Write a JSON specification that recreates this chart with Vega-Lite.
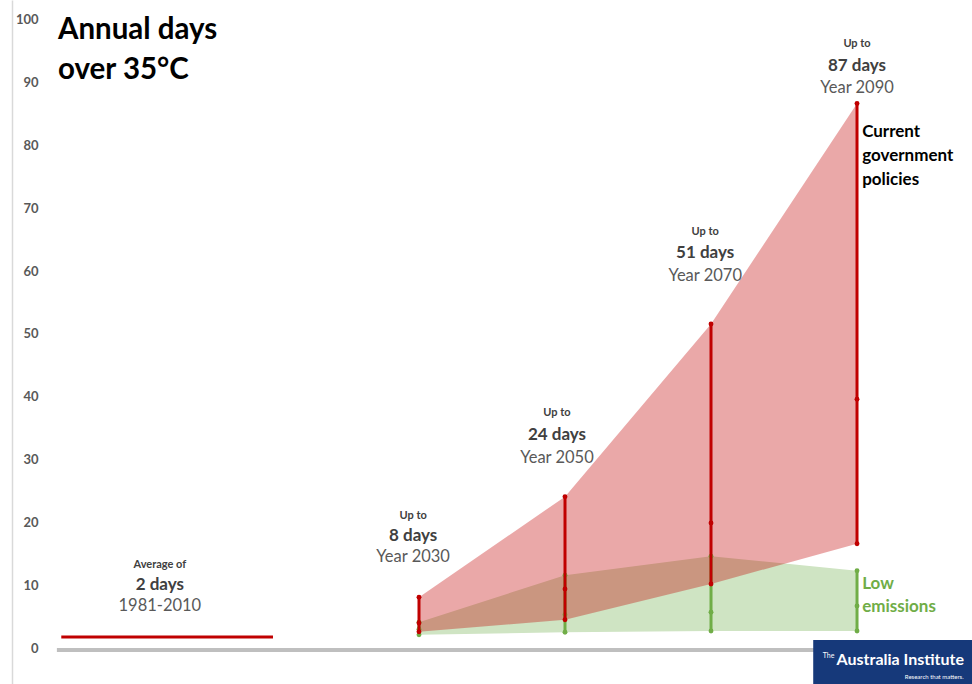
{
  "$schema": "https://vega.github.io/schema/vega-lite/v6.json",
  "width": 960,
  "height": 684,
  "autosize": {"type": "none"},
  "padding": {"left": 12, "top": 0, "right": 0, "bottom": 0},
  "background": "white",
  "config": {"view": {"stroke": null}, "font": "Lato"},
  "datasets": {
    "ranges": [
      {"scenario": "red", "year": 2030, "low": 2.6, "mid": 4.0, "high": 8.1},
      {"scenario": "red", "year": 2050, "low": 4.5, "mid": 9.4, "high": 24.1},
      {"scenario": "red", "year": 2070, "low": 10.2, "mid": 19.9, "high": 51.6},
      {"scenario": "red", "year": 2090, "low": 16.6, "mid": 39.6, "high": 86.7},
      {"scenario": "green", "year": 2030, "low": 2.1, "mid": 3.0, "high": 4.1},
      {"scenario": "green", "year": 2050, "low": 2.5, "mid": 5.3, "high": 11.6},
      {"scenario": "green", "year": 2070, "low": 2.7, "mid": 5.7, "high": 14.6},
      {"scenario": "green", "year": 2090, "low": 2.7, "mid": 6.7, "high": 12.3}
    ],
    "baseline": [{"start": 1981, "end": 2010, "days": 1.75}],
    "axisline": [{"start": 1980.4, "end": 2105.75, "y": -0.3}],
    "logo": [{"x1": 2084, "x2": 2105.75, "y1": 1.27, "y2": -5.73}],
    "labels": [
      {"role": "title", "x": 1980.55, "y": 98.4, "text": "Annual days"},
      {"role": "title", "x": 1980.55, "y": 92.0, "text": "over 35°C"},
      {"role": "small", "x": 1994.5, "y": 13.2, "text": "Average of"},
      {"role": "days", "x": 1994.5, "y": 10.0, "text": "2 days"},
      {"role": "year", "x": 1994.5, "y": 6.7, "text": "1981-2010"},
      {"role": "small", "x": 2029.2, "y": 21.0, "text": "Up to"},
      {"role": "days", "x": 2029.2, "y": 17.8, "text": "8 days"},
      {"role": "year", "x": 2029.2, "y": 14.5, "text": "Year 2030"},
      {"role": "small", "x": 2048.9, "y": 37.4, "text": "Up to"},
      {"role": "days", "x": 2048.9, "y": 33.9, "text": "24 days"},
      {"role": "year", "x": 2048.9, "y": 30.3, "text": "Year 2050"},
      {"role": "small", "x": 2069.2, "y": 66.2, "text": "Up to"},
      {"role": "days", "x": 2069.2, "y": 62.9, "text": "51 days"},
      {"role": "year", "x": 2069.2, "y": 59.2, "text": "Year 2070"},
      {"role": "small", "x": 2090, "y": 96.2, "text": "Up to"},
      {"role": "days", "x": 2090, "y": 92.7, "text": "87 days"},
      {"role": "year", "x": 2090, "y": 89.2, "text": "Year 2090"},
      {"role": "redlegend", "x": 2090.7, "y": 82.2, "text": "Current"},
      {"role": "redlegend", "x": 2090.7, "y": 78.3, "text": "government"},
      {"role": "redlegend", "x": 2090.7, "y": 74.5, "text": "policies"},
      {"role": "greenlegend", "x": 2090.7, "y": 10.2, "text": "Low"},
      {"role": "greenlegend", "x": 2090.7, "y": 6.5, "text": "emissions"},
      {"role": "logoThe", "x": 2085.3, "y": -1.2, "text": "The"},
      {"role": "logoMain", "x": 2087.2, "y": -1.9, "text": "Australia Institute"},
      {"role": "logoSub", "x": 2104.6, "y": -4.6, "text": "Research that matters."}
    ]
  },
  "layer": [
    {
      "data": {"name": "ranges"},
      "transform": [{"filter": "datum.scenario === 'green'"}],
      "mark": {"type": "area", "color": "#CFE4C3", "opacity": 1},
      "encoding": {
        "x": {"field": "year", "type": "quantitative", "scale": {"domain": [1974.25, 2105.75], "nice": false, "zero": false}, "axis": null},
        "y": {"field": "low", "type": "quantitative", "scale": {"domain": [-5.73, 103.18], "nice": false, "zero": false},
          "axis": {"values": [0, 10, 20, 30, 40, 50, 60, 70, 80, 90, 100], "title": null, "grid": false, "ticks": false, "tickSize": 0,
            "domainColor": "#D9D9D9", "domainWidth": 1.5, "labelAlign": "right", "labelPadding": -26,
            "labelFont": "Lato", "labelFontWeight": "bold", "labelFontSize": 13, "labelColor": "#595959"}},
        "y2": {"field": "high"}
      }
    },
    {
      "data": {"name": "ranges"},
      "transform": [{"filter": "datum.scenario === 'red'"}],
      "mark": {"type": "area", "color": "#C00000", "opacity": 0.34},
      "encoding": {
        "x": {"field": "year", "type": "quantitative"},
        "y": {"field": "low", "type": "quantitative"},
        "y2": {"field": "high"}
      }
    },
    {
      "data": {"name": "axisline"},
      "mark": {"type": "rule", "color": "#BFBFBF", "strokeWidth": 4},
      "encoding": {
        "x": {"field": "start", "type": "quantitative"},
        "x2": {"field": "end"},
        "y": {"field": "y", "type": "quantitative"}
      }
    },
    {
      "data": {"name": "baseline"},
      "mark": {"type": "rule", "color": "#C00000", "strokeWidth": 3},
      "encoding": {
        "x": {"field": "start", "type": "quantitative"},
        "x2": {"field": "end"},
        "y": {"field": "days", "type": "quantitative"}
      }
    },
    {
      "data": {"name": "ranges"},
      "transform": [{"filter": "datum.scenario === 'green'"}],
      "mark": {"type": "rule", "color": "#70AD47", "strokeWidth": 3},
      "encoding": {
        "x": {"field": "year", "type": "quantitative"},
        "y": {"field": "low", "type": "quantitative"},
        "y2": {"field": "high"}
      }
    },
    {
      "data": {"name": "ranges"},
      "transform": [{"filter": "datum.scenario === 'green'"}, {"fold": ["low", "mid", "high"]}],
      "mark": {"type": "point", "filled": true, "color": "#70AD47", "size": 24, "opacity": 1},
      "encoding": {
        "x": {"field": "year", "type": "quantitative"},
        "y": {"field": "value", "type": "quantitative"}
      }
    },
    {
      "data": {"name": "ranges"},
      "transform": [{"filter": "datum.scenario === 'red'"}],
      "mark": {"type": "rule", "color": "#C00000", "strokeWidth": 3},
      "encoding": {
        "x": {"field": "year", "type": "quantitative"},
        "y": {"field": "low", "type": "quantitative"},
        "y2": {"field": "high"}
      }
    },
    {
      "data": {"name": "ranges"},
      "transform": [{"filter": "datum.scenario === 'red'"}, {"fold": ["low", "mid", "high"]}],
      "mark": {"type": "point", "filled": true, "color": "#C00000", "size": 24, "opacity": 1},
      "encoding": {
        "x": {"field": "year", "type": "quantitative"},
        "y": {"field": "value", "type": "quantitative"}
      }
    },
    {
      "data": {"name": "logo"},
      "mark": {"type": "rect", "color": "#16397A"},
      "encoding": {
        "x": {"field": "x1", "type": "quantitative"},
        "x2": {"field": "x2"},
        "y": {"field": "y1", "type": "quantitative"},
        "y2": {"field": "y2"}
      }
    },
    {
      "data": {"name": "labels"},
      "transform": [{"filter": "datum.role === 'title'"}],
      "mark": {"type": "text", "align": "left", "baseline": "middle", "font": "Lato", "fontWeight": "bold", "fontSize": 29.5, "color": "#000000"},
      "encoding": {"x": {"field": "x", "type": "quantitative"}, "y": {"field": "y", "type": "quantitative"}, "text": {"field": "text"}}
    },
    {
      "data": {"name": "labels"},
      "transform": [{"filter": "datum.role === 'small'"}],
      "mark": {"type": "text", "align": "center", "baseline": "middle", "font": "Lato", "fontWeight": "bold", "fontSize": 11, "color": "#404040"},
      "encoding": {"x": {"field": "x", "type": "quantitative"}, "y": {"field": "y", "type": "quantitative"}, "text": {"field": "text"}}
    },
    {
      "data": {"name": "labels"},
      "transform": [{"filter": "datum.role === 'days'"}],
      "mark": {"type": "text", "align": "center", "baseline": "middle", "font": "Lato", "fontWeight": "bold", "fontSize": 17, "color": "#404040"},
      "encoding": {"x": {"field": "x", "type": "quantitative"}, "y": {"field": "y", "type": "quantitative"}, "text": {"field": "text"}}
    },
    {
      "data": {"name": "labels"},
      "transform": [{"filter": "datum.role === 'year'"}],
      "mark": {"type": "text", "align": "center", "baseline": "middle", "font": "Lato", "fontSize": 16.5, "color": "#595959"},
      "encoding": {"x": {"field": "x", "type": "quantitative"}, "y": {"field": "y", "type": "quantitative"}, "text": {"field": "text"}}
    },
    {
      "data": {"name": "labels"},
      "transform": [{"filter": "datum.role === 'redlegend'"}],
      "mark": {"type": "text", "align": "left", "baseline": "middle", "font": "Lato", "fontWeight": "bold", "fontSize": 17, "color": "#000000"},
      "encoding": {"x": {"field": "x", "type": "quantitative"}, "y": {"field": "y", "type": "quantitative"}, "text": {"field": "text"}}
    },
    {
      "data": {"name": "labels"},
      "transform": [{"filter": "datum.role === 'greenlegend'"}],
      "mark": {"type": "text", "align": "left", "baseline": "middle", "font": "Lato", "fontWeight": "bold", "fontSize": 17, "color": "#70AD47"},
      "encoding": {"x": {"field": "x", "type": "quantitative"}, "y": {"field": "y", "type": "quantitative"}, "text": {"field": "text"}}
    },
    {
      "data": {"name": "labels"},
      "transform": [{"filter": "datum.role === 'logoThe'"}],
      "mark": {"type": "text", "align": "left", "baseline": "middle", "font": "Lato", "fontSize": 7, "color": "#FFFFFF"},
      "encoding": {"x": {"field": "x", "type": "quantitative"}, "y": {"field": "y", "type": "quantitative"}, "text": {"field": "text"}}
    },
    {
      "data": {"name": "labels"},
      "transform": [{"filter": "datum.role === 'logoMain'"}],
      "mark": {"type": "text", "align": "left", "baseline": "middle", "font": "Lato", "fontWeight": "bold", "fontSize": 16, "color": "#FFFFFF", "letterSpacing": -0.7},
      "encoding": {"x": {"field": "x", "type": "quantitative"}, "y": {"field": "y", "type": "quantitative"}, "text": {"field": "text"}}
    },
    {
      "data": {"name": "labels"},
      "transform": [{"filter": "datum.role === 'logoSub'"}],
      "mark": {"type": "text", "align": "right", "baseline": "middle", "font": "Lato", "fontSize": 6, "color": "#FFFFFF"},
      "encoding": {"x": {"field": "x", "type": "quantitative"}, "y": {"field": "y", "type": "quantitative"}, "text": {"field": "text"}}
    }
  ]
}
